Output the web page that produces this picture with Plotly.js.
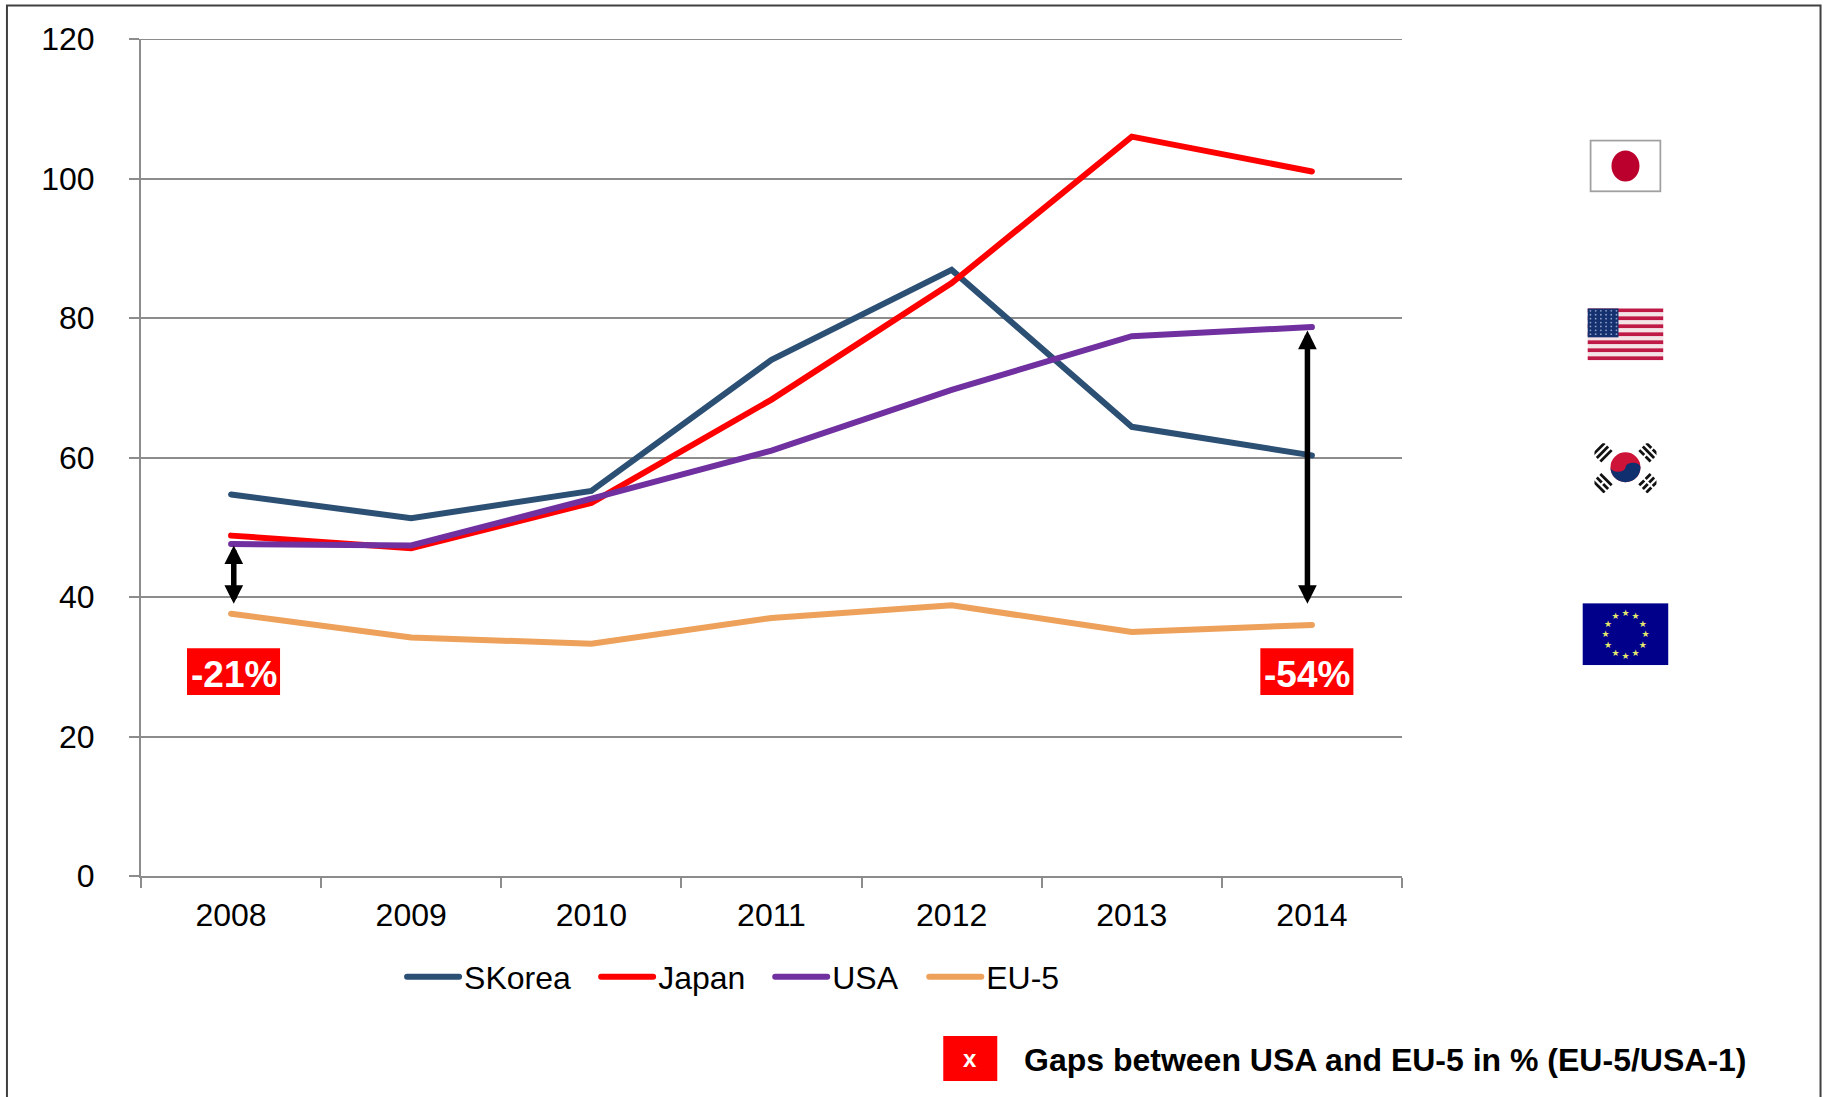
<!DOCTYPE html>
<html><head><meta charset="utf-8">
<script src="https://cdn.plot.ly/plotly-3.0.1.min.js"></script>
<style>html,body{margin:0;padding:0;background:#fff}</style></head>
<body><div id="chart" style="width:1828px;height:1097px"></div>
<script>
const years = ['2008','2009','2010','2011','2012','2013','2014'];
const skorea = [54.7,51.3,55.2,74.0,86.9,64.4,60.3];
const japan = [48.8,47.0,53.5,68.3,85.0,106.0,101.0];
const usa = [47.6,47.4,54.1,61.0,69.7,77.4,78.7];
const eu5 = [37.6,34.2,33.3,37.0,38.8,35.0,36.0];
const seriesNames = ['SKorea','Japan','USA','EU-5'];
const seriesColors = ['#2c4f74','#ff0000','#7030a0','#eda15a'];
const gapLabels = ['-21%','-54%'];
const footnote = 'Gaps between USA and EU-5 in % (EU-5/USA-1)';

const W=1828,H=1097,L=141,R=1401.6,T=38.5,B=876;
const px=v=>(v-L)/(R-L), py=v=>(B-v)/(B-T);
const FONT='Liberation Sans, Arial, sans-serif';
const uri=s=>'data:image/svg+xml;charset=utf-8,'+encodeURIComponent(s);

const jp=`<svg xmlns="http://www.w3.org/2000/svg" width="72" height="53" viewBox="0 0 72 53"><rect x="1" y="1" width="70" height="51" fill="#fff" stroke="#a0a0a0" stroke-width="2"/><ellipse cx="36" cy="26.5" rx="14" ry="15.5" fill="#bc002d"/></svg>`;
let stripes='';for(let i=0;i<13;i++){stripes+=`<rect x="0" y="${i*4}" width="76" height="4" fill="${i%2?'#f4e4e8':'#bf1a45'}"/>`;}
let stars='';for(let r=0;r<7;r++)for(let c=0;c<6;c++){stars+=`<circle cx="${3+c*5.2}" cy="${2.5+r*3.9}" r="0.9" fill="#8ea0c8"/>`;}
const us=`<svg xmlns="http://www.w3.org/2000/svg" width="76" height="52" viewBox="0 0 76 52">${stripes}<rect width="31" height="29" fill="#14306e"/>${stars}</svg>`;
function tri(cx,cy,ang,brk){let s=`<g transform="translate(${cx} ${cy}) rotate(${ang})">`;
  [-5,0,5].forEach((o,i)=>{ if(brk[i]){s+=`<rect x="-8" y="${o-1.4}" width="7" height="2.8" fill="#111"/><rect x="1" y="${o-1.4}" width="7" height="2.8" fill="#111"/>`;} else s+=`<rect x="-8" y="${o-1.4}" width="16" height="2.8" fill="#111"/>`;});return s+'</g>';}
const kr=`<svg xmlns="http://www.w3.org/2000/svg" width="62" height="50" viewBox="0 0 62 50"><circle cx="31" cy="24" r="15" fill="#cd1438"/><path d="M16 24 A15 15 0 0 0 46 24 A7.5 4.5 0 0 0 31 24 A7.5 4.5 0 0 1 16 24 Z" fill="#0f2f6f"/>${tri(8,9,-45,[0,0,0])}${tri(54,9,45,[1,0,1])}${tri(8,40,45,[0,1,0])}${tri(54,40,-45,[1,1,1])}</svg>`;
let euStars='';for(let i=0;i<12;i++){const a=i*Math.PI/6;const x=43+20*Math.sin(a),y=31-21.5*Math.cos(a);euStars+=`<text x="${x}" y="${y+3.2}" font-size="9" text-anchor="middle" fill="#e6e86e" font-family="DejaVu Sans">\u2605</text>`;}
const eu=`<svg xmlns="http://www.w3.org/2000/svg" width="86" height="62" viewBox="0 0 86 62"><rect width="86" height="62" fill="#00008b"/>${euStars}</svg>`;
function flag(s,x0,y0,x1,y1){return {source:uri(s),xref:'paper',yref:'paper',x:px(x0),y:py(y0),sizex:(x1-x0)/(R-L),sizey:(y1-y0)/(B-T),xanchor:'left',yanchor:'top',sizing:'stretch',layer:'above'};}

const legendIds=['legend','legend2','legend3','legend4'];
const legendStarts=[402,596,770,924];
const traces=[skorea,japan,usa,eu5].map((v,i)=>({x:years,y:v,name:seriesNames[i],legend:legendIds[i],type:'scatter',mode:'lines',line:{color:seriesColors[i],width:6},hoverinfo:'skip'}));

function redBox(x0,y0,x1,y1){return {type:'rect',xref:'paper',yref:'paper',x0:px(x0),x1:px(x1),y0:py(y0),y1:py(y1),fillcolor:'#ff0000',line:{width:0},layer:'above'};}
function label(t,xc,yc,size,bold){return {xref:'paper',yref:'paper',x:px(xc),y:py(yc),text:bold?`<b>${t}</b>`:t,showarrow:false,xanchor:'center',yanchor:'middle',font:{family:FONT,size:size,color:'#fff'}};}
function arrow(xi,yTop,yBot){return {xref:'x',yref:'y',axref:'x',ayref:'y',x:xi,y:yTop,ax:xi,ay:yBot,text:'',showarrow:true,arrowhead:2,arrowside:'end+start',arrowsize:0.68,arrowwidth:5.5,arrowcolor:'#000',standoff:0,startstandoff:0};}

const layout={
  width:W,height:H,paper_bgcolor:'#fff',plot_bgcolor:'#fff',
  margin:{l:L,r:W-R,t:T,b:H-B,pad:0},
  font:{family:FONT,size:32,color:'#000'},
  showlegend:true,
  xaxis:{type:'category',categoryorder:'array',categoryarray:years,range:[-0.5,6.5],tickson:'boundaries',ticks:'outside',ticklen:10,tickwidth:2,tickcolor:'#8c8c8c',showgrid:false,showline:true,linecolor:'#8c8c8c',linewidth:2,zeroline:false,tickfont:{family:FONT,size:32,color:'#000'},automargin:false,ticklabelstandoff:10},
  yaxis:{range:[0,120],tickvals:[0,20,40,60,80,100,120],ticks:'outside',ticklen:10,tickwidth:2,tickcolor:'#8c8c8c',showgrid:true,gridcolor:'#8c8c8c',gridwidth:2,showline:true,linecolor:'#8c8c8c',linewidth:2,zeroline:false,tickfont:{family:FONT,size:32,color:'#000'},automargin:false,ticklabelstandoff:28},
  shapes:[
    {type:'rect',xref:'paper',yref:'paper',x0:px(7),x1:px(1820),y0:py(5),y1:py(1110),line:{color:'#404040',width:2},fillcolor:'rgba(0,0,0,0)',layer:'below'},
    {type:'line',xref:'paper',yref:'y',x0:0,x1:1,y0:120,y1:120,line:{color:'#8c8c8c',width:2},layer:'below'},
    redBox(187,648,280,695),redBox(1260,648,1353,695),redBox(943,1036,997,1081)
  ],
  annotations:[
    arrow(0.015,47.4,38.8),arrow(5.975,78.2,38.8),
    label(gapLabels[0],233.5,674,37,true),label(gapLabels[1],1306.5,674,37,true),
    label('x',970,1059,24,true),
    {xref:'paper',yref:'paper',x:px(1022),y:py(1060),text:`<b>${footnote}</b>`,showarrow:false,xanchor:'left',yanchor:'middle',font:{family:FONT,size:32,color:'#000'}}
  ],
  images:[flag(jp,1589,139,1661,192),flag(us,1587,308,1663,360),flag(kr,1594,443,1656,493),flag(eu,1582,603,1668,665)]
};
legendIds.forEach((id,i)=>{layout[id]={x:px(legendStarts[i]),y:py(977),xanchor:'left',yanchor:'middle',itemwidth:52,font:{family:FONT,size:32,color:'#000'},bgcolor:'rgba(0,0,0,0)',itemclick:false,itemdoubleclick:false};});
Plotly.newPlot('chart',traces,layout,{displayModeBar:false,staticPlot:true}).then(()=>{
  document.querySelectorAll('.js-line').forEach(p=>p.style.strokeLinecap='round');
});
</script></body></html>
